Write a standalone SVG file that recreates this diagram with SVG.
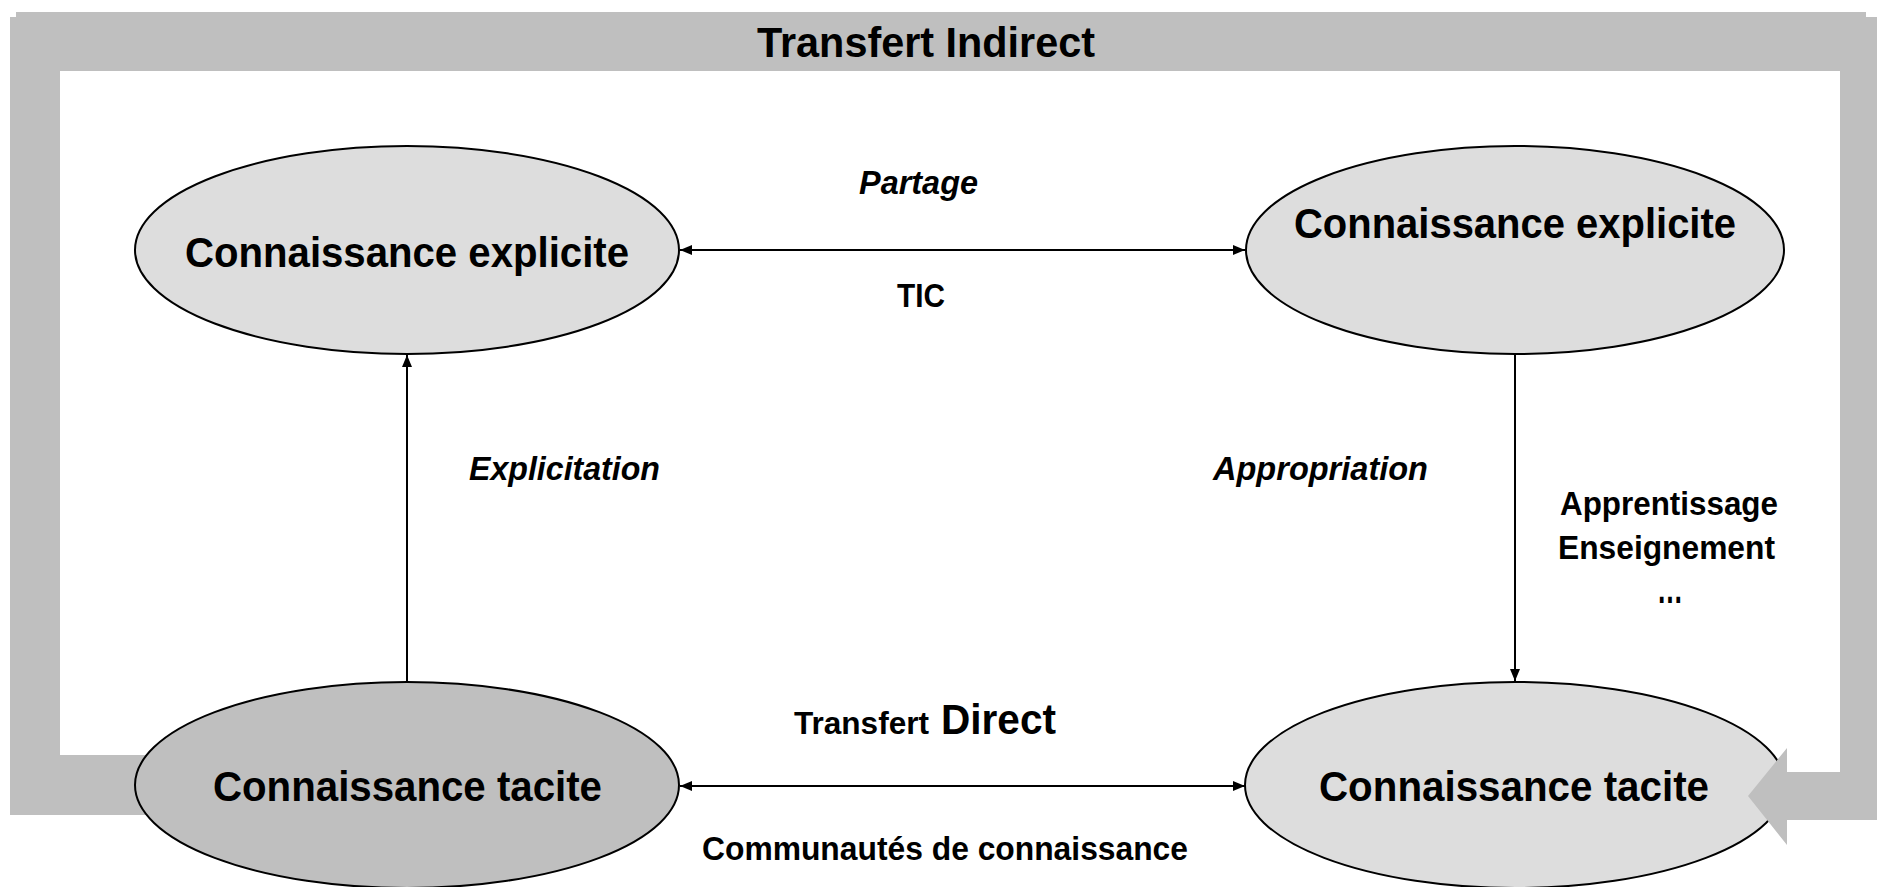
<svg xmlns="http://www.w3.org/2000/svg" width="1877" height="887" viewBox="0 0 1877 887">
  <style>
    .bg { fill: #ffffff; }
    .band { fill: #bfbfbf; }
    .node-light { fill: #dddddd; stroke: #000000; stroke-width: 2; }
    .node-dark { fill: #bfbfbf; stroke: #000000; stroke-width: 2; }
    .edge { fill: none; stroke: #000000; stroke-width: 2; }
    text { font-family: "Liberation Sans", Arial, sans-serif; font-weight: bold; fill: #000000; }
    .big { font-size: 42px; }
    .mid { font-size: 33px; }
    .it { font-style: italic; }
  </style>
  <defs>
    <marker id="head" markerUnits="userSpaceOnUse" markerWidth="12" markerHeight="10" refX="12" refY="5" orient="auto-start-reverse">
      <path d="M0,0 L12,5 L0,10 Z" fill="#000000"/>
    </marker>
  </defs>

  <rect class="bg" x="0" y="0" width="1877" height="887"/>

  <!-- tacit knowledge (receiver) sits under the indirect-transfer arrow -->
  <g id="node-tacite-droite">
    <ellipse class="node-light" cx="1515" cy="785" rx="270" ry="103"/>
    <text class="big" x="1319" y="801" textLength="390" lengthAdjust="spacingAndGlyphs">Connaissance tacite</text>
  </g>

  <!-- indirect transfer: thick band around the diagram ending in an arrow -->
  <g id="transfert-indirect">
    <path class="band" d="M160,755 L60,755 L60,71 L1840,71 L1840,772 L1787,772 L1787,748 L1748,796 L1787,845 L1787,820 L1877,820 L1877,17 L1866,17 L1866,12 L16,12 L16,17 L10,17 L10,815 L160,815 Z"/>
    <text class="big" x="757" y="57" textLength="338" lengthAdjust="spacingAndGlyphs">Transfert Indirect</text>
  </g>

  <g id="node-explicite-gauche">
    <ellipse class="node-light" cx="407" cy="250" rx="272" ry="104"/>
    <text class="big" x="185" y="267" textLength="444" lengthAdjust="spacingAndGlyphs">Connaissance explicite</text>
  </g>

  <g id="node-explicite-droite">
    <ellipse class="node-light" cx="1515" cy="250" rx="269" ry="104"/>
    <text class="big" x="1294" y="238" textLength="442" lengthAdjust="spacingAndGlyphs">Connaissance explicite</text>
  </g>

  <g id="node-tacite-gauche">
    <ellipse class="node-dark" cx="407" cy="785" rx="272" ry="103"/>
    <text class="big" x="213" y="801" textLength="389" lengthAdjust="spacingAndGlyphs">Connaissance tacite</text>
  </g>

  <g id="connectors">
    <path class="edge" d="M680,250 L1245,250" marker-start="url(#head)" marker-end="url(#head)"/>
    <path class="edge" d="M680,786 L1245,786" marker-start="url(#head)" marker-end="url(#head)"/>
    <path class="edge" d="M407,681 L407,355" marker-end="url(#head)"/>
    <path class="edge" d="M1515,355 L1515,681" marker-end="url(#head)"/>
  </g>

  <g id="labels">
    <text class="mid it" x="859" y="194" textLength="119" lengthAdjust="spacingAndGlyphs">Partage</text>
    <text class="mid" x="897" y="307" textLength="48" lengthAdjust="spacingAndGlyphs">TIC</text>
    <text class="mid it" x="469" y="480" textLength="191" lengthAdjust="spacingAndGlyphs">Explicitation</text>
    <text class="mid it" x="1213" y="480" textLength="215" lengthAdjust="spacingAndGlyphs">Appropriation</text>
    <text class="mid" x="1560" y="515" textLength="218" lengthAdjust="spacingAndGlyphs">Apprentissage</text>
    <text class="mid" x="1558" y="559" textLength="217" lengthAdjust="spacingAndGlyphs">Enseignement</text>
    <text x="1657" y="603" font-size="42" textLength="26" lengthAdjust="spacingAndGlyphs">…</text>
    <text x="794" y="734" font-size="32" textLength="135" lengthAdjust="spacingAndGlyphs">Transfert</text>
    <text class="big" x="941" y="734" textLength="115" lengthAdjust="spacingAndGlyphs">Direct</text>
    <text class="mid" x="702" y="860" textLength="486" lengthAdjust="spacingAndGlyphs">Communautés de connaissance</text>
  </g>
</svg>
